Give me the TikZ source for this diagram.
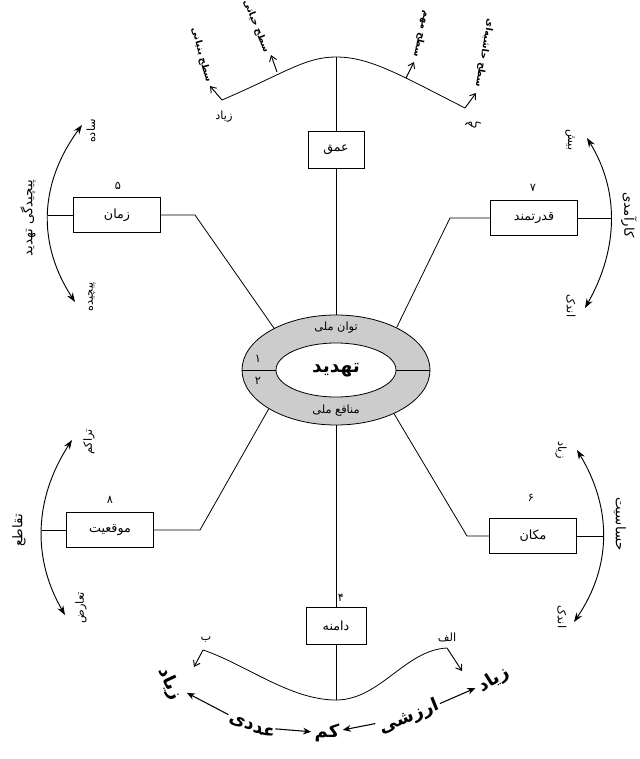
\documentclass[tikz,border=0pt]{standalone}
\usepackage{fontspec}
\newfontfamily\fa[Script=Arabic]{DejaVu Sans}
\TeXXeTstate=1
\usetikzlibrary{shapes.geometric,arrows.meta}
\newcommand\RTLtxt[1]{\beginR #1\endR}
\begin{document}
\begin{tikzpicture}[x=0.75pt,y=-0.75pt,
 ln/.style={line width=0.6pt},
 box/.style={draw, line width=0.6pt, minimum width=65pt, minimum height=26pt, inner sep=1pt, font=\fa\fontsize{9.5}{10}\selectfont},
 lbl/.style={font=\fa\fontsize{8.5}{9}\selectfont, inner sep=1pt},
 ttl/.style={font=\fa\fontsize{10}{11}\selectfont, inner sep=1pt},
 num/.style={font=\fa\fontsize{8.5}{9}\selectfont, inner sep=1pt},
 lev/.style={font=\fa\bfseries\fontsize{7}{8}\selectfont, inner sep=0.5pt, anchor=east},
 big/.style={font=\fa\bfseries\fontsize{13.5}{14}\selectfont, inner sep=0.5pt},
 dbl/.style={line width=0.7pt, {Stealth[length=7pt,width=5pt]}-{Stealth[length=7pt,width=5pt]}},
 tipar/.style={line width=0.7pt, -{Straight Barb[length=4pt,width=5.5pt]}},
 barr/.style={line width=0.8pt, -{Stealth[length=6pt,width=5pt]}, shorten <=1pt, shorten >=2pt}
]
\useasboundingbox (0,0) rectangle (639,759);

% centre
\node[ellipse, draw, ln, fill=black!20, minimum width=141pt, minimum height=82.5pt, inner sep=0] (outer) at (336,370) {};
\node[ellipse, draw, ln, fill=white, minimum width=90pt, minimum height=40.5pt, inner sep=0, font=\fa\bfseries\fontsize{14}{15}\selectfont] (inner) at (336,370) {\RTLtxt{تهدید}};
\draw[ln] (outer.west) -- (inner.west);
\draw[ln] (inner.east) -- (outer.east);
\node[lbl] (tavan) at (336,328) {\RTLtxt{توان ملی}};
\node[lbl] (manafe) at (336,411) {\RTLtxt{منافع ملی}};
\node[num] (n1) at (258,359) {۱};
\node[num] (n2) at (258,381) {۲};

% top: depth
\node[box, minimum width=42pt, minimum height=27.75pt] (omgh) at (336,150) {\RTLtxt{عمق}};
\coordinate (peak) at (336,57);
\coordinate (tl) at (222,100);
\coordinate (tr) at (465,108);
\draw[ln] (outer.north) -- (omgh.south);
\draw[ln] (omgh.north) -- (peak);
\draw[ln] (tl) .. controls (285,73) and (305,57) .. (peak) .. controls (370,57) and (400,75) .. (tr);
\coordinate (tlh) at (210,86);
\coordinate (m1) at (277,72);
\coordinate (m1h) at (271,55);
\coordinate (m2) at (406,78);
\coordinate (m2h) at (414,62);
\coordinate (trh) at (476,93);
\draw[tipar] (tl) -- (tlh);
\draw[tipar] (m1) -- (m1h);
\draw[tipar] (m2) -- (m2h);
\draw[tipar] (tr) -- (trh);
\node[lbl] (tzi) at (224,117) {\RTLtxt{زیاد}};
\node[lbl, rotate=-40] (tkam) at (473,124) {\RTLtxt{کم}};
\node[lev, rotate=-75] (s1) at (209,83) {\RTLtxt{سطح بنیانی}};
\node[lev, rotate=-68] (s2) at (267,53) {\RTLtxt{سطح حیاتی}};
\node[lev, rotate=-103] (s3) at (416,58) {\RTLtxt{سطح مهم}};
\node[lev, rotate=-100] (s4) at (478,88) {\RTLtxt{سطح حاشیه‌ای}};

% left top: time
\node[box] (zaman) at (117,215) {\RTLtxt{زمان}};
\node[num] (n5) at (118,186) {۵};
\coordinate (zc) at (195,215);
\draw[ln] (zaman.east) -- (zc) -- (outer.146);
\coordinate (zarc) at (48,215);
\coordinate (zt) at (82,125);
\coordinate (zb) at (75,302);
\draw[ln] (zarc) -- (zaman.west);
\draw[dbl] (zt) .. controls (38,185) and (38,245) .. (zb);
\node[ttl, rotate=90] (pich) at (28,218) {\RTLtxt{پیچیدگی تهدید}};
\node[lbl, rotate=90] (sade) at (91,131) {\RTLtxt{ساده}};
\node[lbl, rotate=90] (pichide) at (92,297) {\RTLtxt{پیچیده}};

% right top: power
\node[box] (ghodrat) at (534,218) {\RTLtxt{قدرتمند}};
\node[num] (n7) at (533,188) {۷};
\coordinate (gc) at (450,218);
\draw[ln] (ghodrat.west) -- (gc) -- (outer.35);
\coordinate (garc) at (611,218);
\coordinate (gt) at (587,138);
\coordinate (gb) at (585,308);
\draw[ln] (ghodrat.east) -- (garc);
\draw[dbl] (gt) .. controls (619,190) and (619,248) .. (gb);
\node[ttl, rotate=-90] (karamadi) at (629,215) {\RTLtxt{کارآمدی}};
\node[lbl, rotate=-90] (bish) at (570,140) {\RTLtxt{بیش}};
\node[lbl, rotate=-90] (andak1) at (571,306) {\RTLtxt{اندک}};

% left bottom: position
\node[box] (mogh) at (110,530) {\RTLtxt{موقعیت}};
\node[num] (n8) at (110,500) {۸};
\coordinate (mc) at (200,530);
\draw[ln] (mogh.east) -- (mc) -- (outer.210);
\coordinate (marc) at (42,530);
\coordinate (mt) at (72,440);
\coordinate (mb) at (65,615);
\draw[ln] (marc) -- (mogh.west);
\draw[dbl] (mt) .. controls (33,500) and (33,560) .. (mb);
\node[ttl, rotate=90] (taghato) at (19,530) {\RTLtxt{تقاطع}};
\node[lbl, rotate=90] (tarakom) at (89,442) {\RTLtxt{تراکم}};
\node[lbl, rotate=90] (taaroz) at (81,608) {\RTLtxt{تعارض}};

% right bottom: place
\node[box] (makan) at (533,536) {\RTLtxt{مکان}};
\node[num] (n6) at (531,498) {۶};
\coordinate (kc) at (467,536);
\draw[ln] (makan.west) -- (kc) -- (outer.323);
\coordinate (karc) at (603,536);
\coordinate (kt) at (577,450);
\coordinate (kb) at (574,622);
\draw[ln] (makan.east) -- (karc);
\draw[dbl] (kt) .. controls (612,508) and (612,566) .. (kb);
\node[ttl, rotate=-90] (hasasiat) at (620,524) {\RTLtxt{حساسیت}};
\node[lbl, rotate=-90] (ziad2) at (561,450) {\RTLtxt{زیاد}};
\node[lbl, rotate=-90] (andak2) at (562,617) {\RTLtxt{اندک}};

% bottom: scope
\node[box, minimum width=45pt, minimum height=27.75pt] (damane) at (336,626) {\RTLtxt{دامنه}};
\node[num] (n4) at (341,598) {۴};
\coordinate (bot) at (336,700);
\coordinate (bl) at (203,650);
\coordinate (br) at (447,648);
\draw[ln] (outer.south) -- (damane.north);
\draw[ln] (damane.south) -- (bot);
\draw[ln] (bl) .. controls (245,664) and (290,700) .. (bot) .. controls (380,700) and (405,650) .. (br);
\coordinate (blh) at (194,667);
\coordinate (brh) at (462,671);
\draw[tipar] (bl) -- (blh);
\draw[tipar] (br) -- (brh);
\node[lbl] (be) at (206,640) {\RTLtxt{ب}};
\node[lbl] (alef) at (447,637) {\RTLtxt{الف}};

\node[big, rotate=-65] (zl) at (170,684) {\RTLtxt{زیاد}};
\node[big, rotate=-22] (adadi) at (252,727) {\RTLtxt{عددی}};
\node[big] (kam) at (327,733) {\RTLtxt{کم}};
\node[big, rotate=22] (arzeshi) at (409,717) {\RTLtxt{ارزشی}};
\node[big, rotate=32] (zr) at (494,680) {\RTLtxt{زیاد}};
\draw[barr] (adadi) -- (zl);
\draw[barr] (adadi) -- (kam);
\draw[barr] (arzeshi) -- (kam);
\draw[barr] (arzeshi) -- (zr);
\end{tikzpicture}
\end{document}
